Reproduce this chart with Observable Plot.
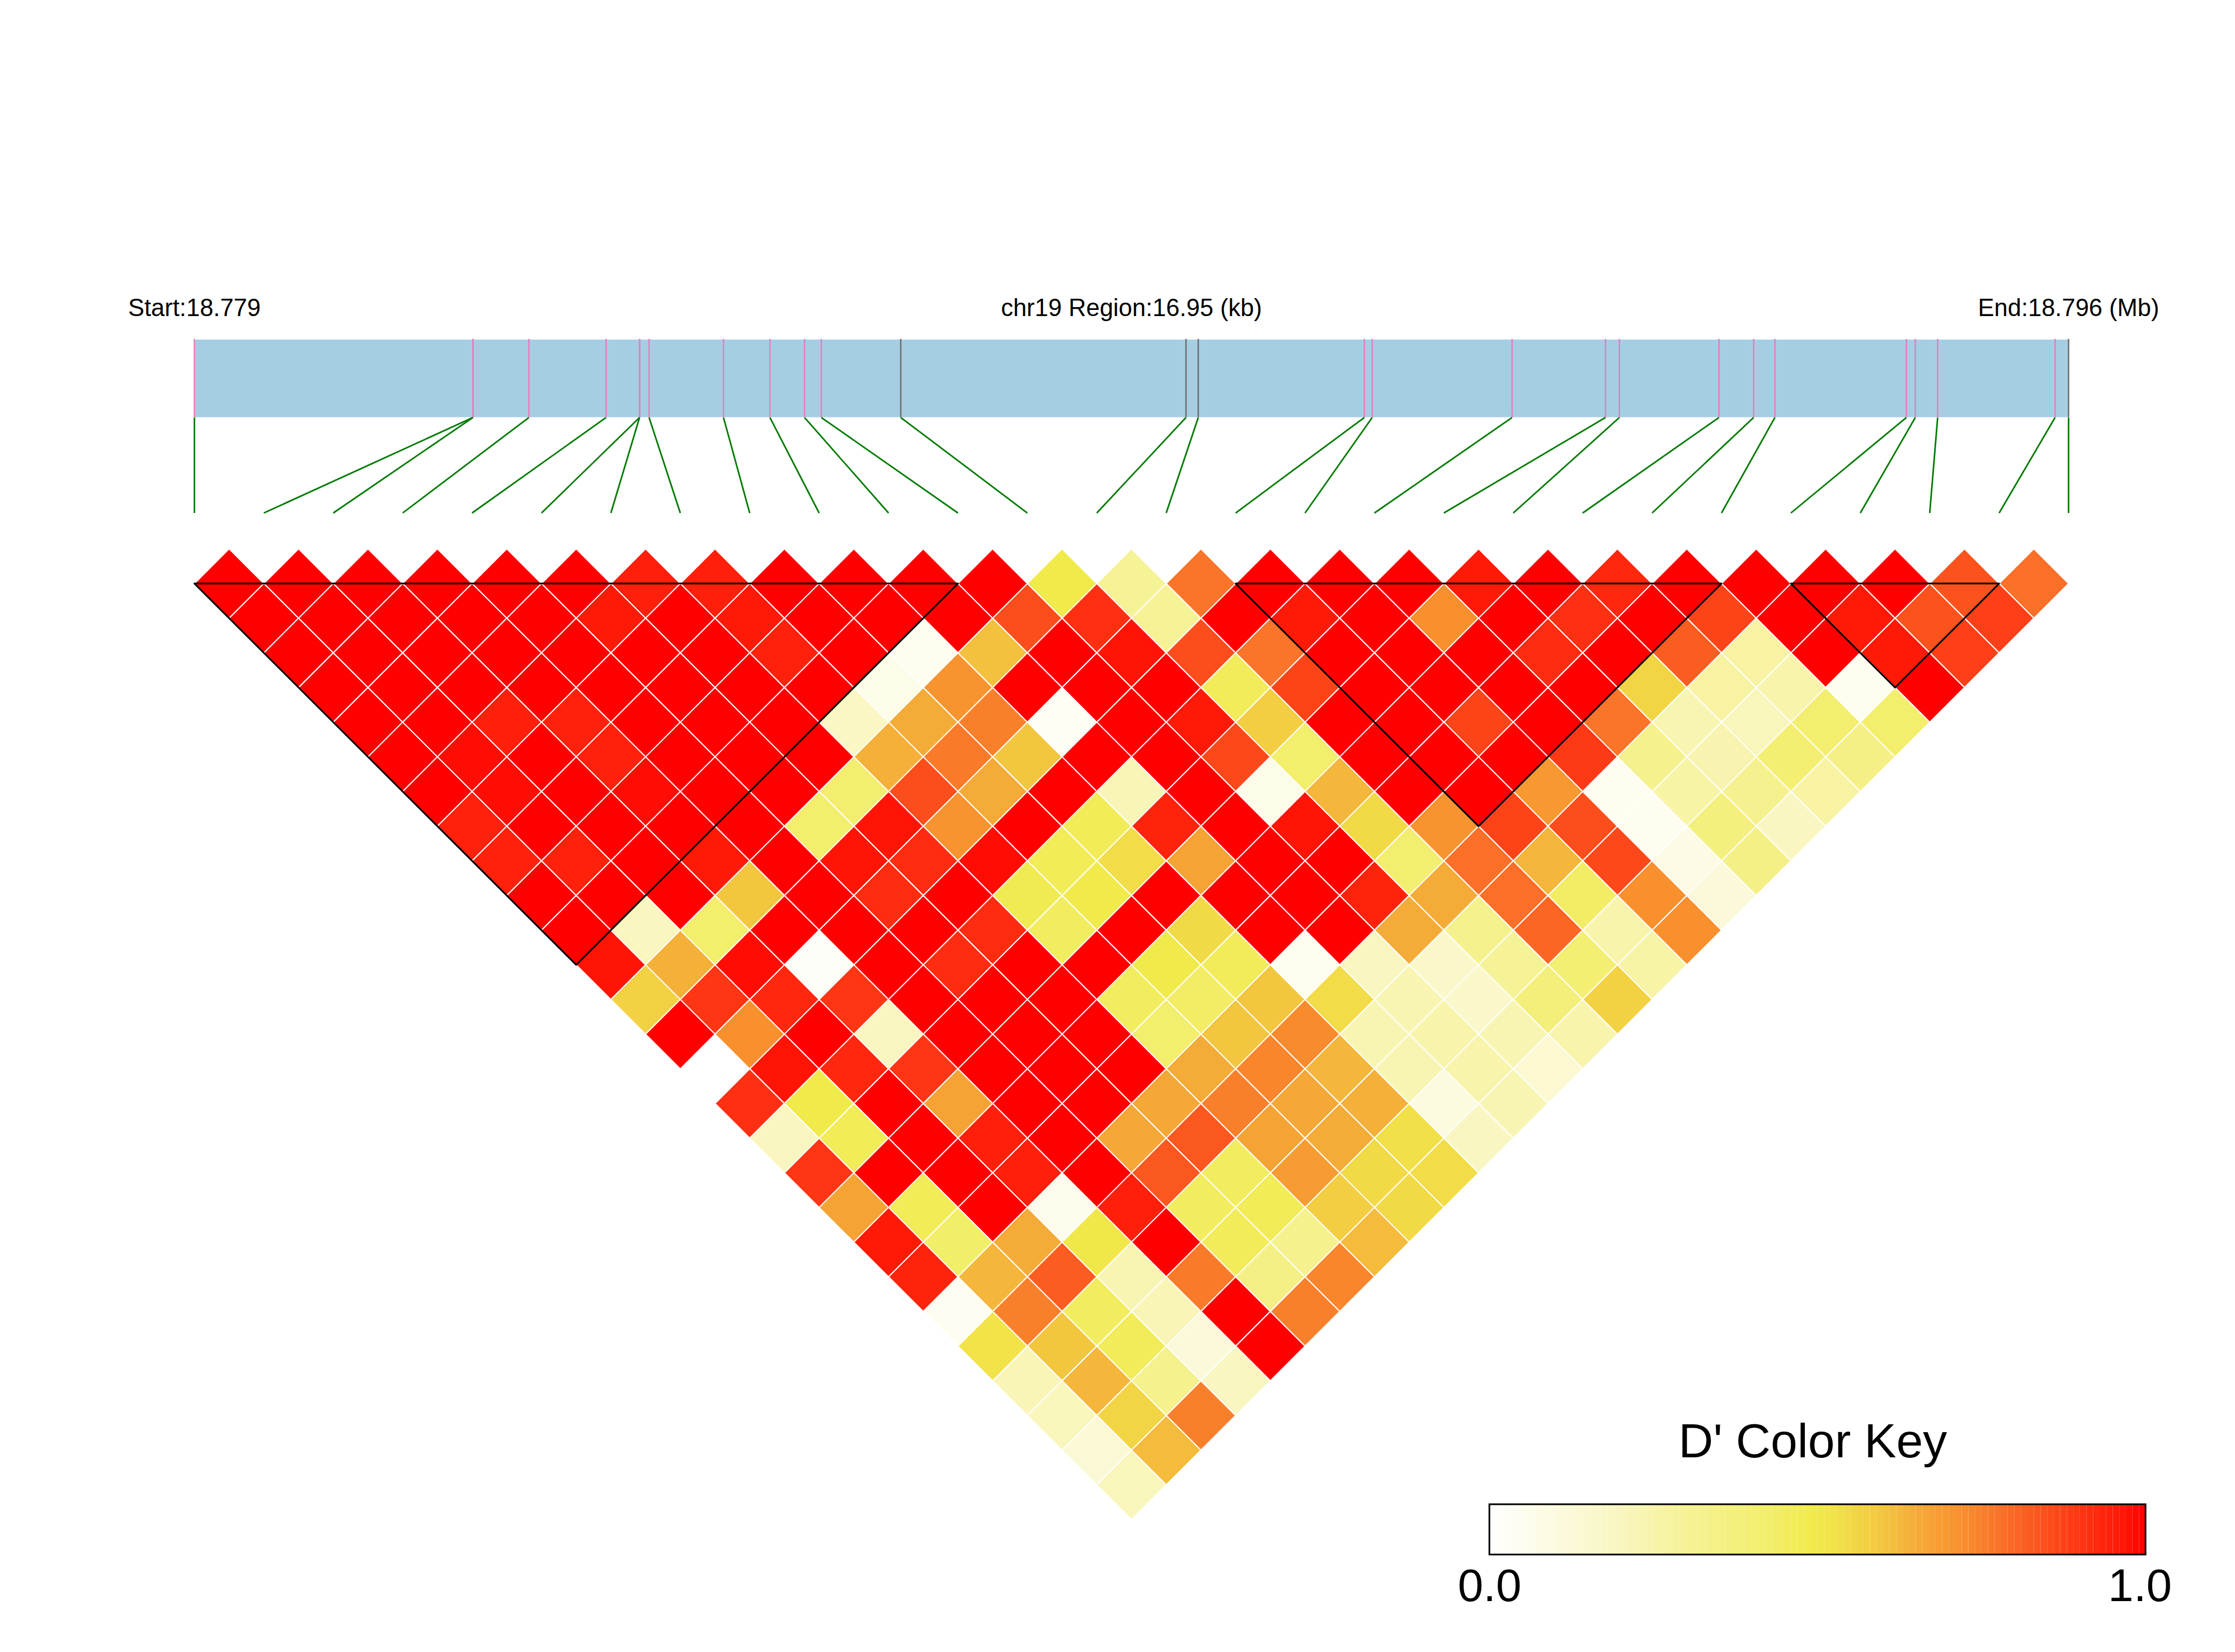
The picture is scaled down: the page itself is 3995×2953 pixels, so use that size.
<!DOCTYPE html>
<html>
<head>
<meta charset="utf-8">
<style>html,body{margin:0;padding:0;background:#fff}svg{display:block}</style>
<script src="https://cdn.jsdelivr.net/npm/d3@7"></script>
<script src="https://cdn.jsdelivr.net/npm/@observablehq/plot@0.6"></script>
</head>
<body>
<div id="chart"></div>
<script>
// D' by distance between SNPs: row n holds pairs (k, k+n+1). null = no value.
const row00 = [1,1,1,1,1,1,.95,.95,1,1,1,1,.5,.3,.77,1,1,1,.96,1,.93,1,1,1,1,.84,.78];
const row01 = [1,1,1,1,1,.96,1,.96,1,1,1,.85,.91,.3,1,.96,1,.72,1,.91,1,.87,1,.96,.84,.88];
const row02 = [1,1,1,1,1,1,1,.945,1,.05,.61,1,.97,.85,.77,1,1,1,.92,1,.82,.27,1,.96,.88];
const row03 = [1,1,1,1,1,1,1,1,.07,.71,1,1,1,.46,.87,1,1,1,1,.56,.27,.25,.05,1];
const row04 = [1,1,.95,.945,1,1,1,.18,.65,.75,.03,1,.96,.58,1,1,.87,1,.77,.23,.21,.41,.42];
const row05 = [1,.98,1,.945,1,1,1,.64,.76,.6,1,1,.86,.42,1,1,1,.89,.33,.24,.4,.35];
const row06 = [1,.98,1,.98,1,1,.41,.85,.65,1,.22,1,.07,.63,1,1,.7,.05,.26,.32,.27];
const row07 = [.945,1,1,1,1,.42,.97,.71,1,.47,.94,1,.97,.55,.71,.87,.85,.05,.37,.19];
const row08 = [.945,.945,1,.96,1,.97,.92,.98,.47,.54,.67,1,1,.41,.78,.63,.86,.08,.35];
const row09 = [1,1,1,.6,1,.92,1,.48,.5,1,1,1,.94,.65,.78,.44,.72,.12];
const row10 = [1,.2,.42,1,1,1,.92,.45,1,.55,1,1,.65,.33,.8,.25,.72];
const row11 = [.97,.64,.98,.02,1,.92,1,1,.5,.46,.05,.2,.17,.3,.4,.26];
const row12 = [.57,.9,.93,.9,1,1,1,.45,.44,.6,.54,.23,.17,.38,.57];
const row13 = [1,.72,1,.2,1,1,1,.42,.6,.73,.23,.25,.23,.25];
const row14 = [null,.97,.93,.9,1,1,1,.65,.74,.63,.23,.25,.14];
const row15 = [.91,.5,1,.67,1,1,.66,.75,.66,.64,.1,.23];
const row16 = [.2,.47,1,.95,1,.66,.83,.67,.65,.53,.19];
const row17 = [.9,1,1,.95,1,.83,.45,.69,.55,.54];
const row18 = [.67,.47,1,.06,.95,.45,.47,.58,.55];
const row19 = [.96,.43,.65,.51,1,.46,.33,.62];
const row20 = [.94,.63,.82,.23,.76,.35,.74];
const row21 = [.04,.75,.45,.22,1,.75];
const row22 = [.52,.6,.46,.12,1];
const row23 = [.22,.63,.33,.2];
const row24 = [.21,.56,.75];
const row25 = [.13,.62];
const row26 = [.21];
const rows = [row00,row01,row02,row03,row04,row05,row06,row07,row08,row09,row10,row11,row12,row13,
              row14,row15,row16,row17,row18,row19,row20,row21,row22,row23,row24,row25,row26];

// SNP positions within the 16.95 kb region
const regionKb = 16.95;
const snpKb = [0,2.519,2.519,3.025,3.723,4.026,4.026,4.112,4.785,5.205,5.518,5.670,6.388,8.968,
               9.079,10.581,10.652,11.917,12.762,12.888,13.788,14.102,14.294,15.483,15.564,15.766,16.828,16.95];
const greySnps = [12,13,14,27];

// LD blocks (first SNP, last SNP)
const blockFirst = [0,15,23];
const blockLast  = [11,22,26];

// Colour ramp of the key
const rampStops  = [0,.1,.2,.3,.42,.5,.55,.6,.65,.72,.78,.85,.9,.96,1];
const rampColors = ["#ffffff","#fcfadf","#f9f6bf","#f6f296","#f3ee6c","#f0ea4a","#f2d946","#f3c63f",
                    "#f5ab38","#f8902e","#fa7028","#fc4e1c","#ff3514","#ff1a08","#ff0000"];
const keyValues = d3.range(0,100).map(d => d/100);
const keyTickLabels = ["0.0","1.0"];
const keyTickAt = [0,.991];

const font = "Liberation Sans, Arial, sans-serif";

// layout in scale units: x = SNP index, y = rows of the triangle
const trackTop = -7.03, trackBottom = -4.79, fanEnd = -2.035, labelY = -7.71;
const keyLeft = 18.66, keyRight = 28.113, keyTop = 26.57, keyBottom = 28.02;

const cells = rows.flatMap((vals, d) => vals.map((v, k) => ({v, x: k + (d + 1)/2, y: d}))).filter(c => c.v !== null);
const snps = snpKb.map((kb, i) => ({i, pos: kb/regionKb*27, grey: greySnps.includes(i)}));
const blockPaths = blockFirst.flatMap((a, n) => {
  const b = blockLast[n];
  return [[a,0],[b,0],[(a+b)/2,b-a],[a,0]].map(([x,y]) => ({n, x, y}));
});
const diamond = {draw(ctx, size){ const r = Math.sqrt(size/Math.PI);
  ctx.moveTo(0,-r); ctx.lineTo(r,0); ctx.lineTo(0,r); ctx.lineTo(-r,0); ctx.closePath(); }};
const keyX = v => keyLeft + v*(keyRight-keyLeft);

const chart = Plot.plot({
  width: 3995, height: 2953, margin: 0,
  style: {background:"#fff", fontFamily: font},
  x: {domain:[0,27], range:[347,3697], axis:null},
  y: {domain:[0,26], range:[1042.6,2653.6], axis:null},
  color: {type:"linear", domain: rampStops, range: rampColors, clamp:true},
  marks: [
    Plot.rect([0], {x1:0, x2:27, y1:trackTop, y2:trackBottom, fill:"#A6CEE3"}),
    Plot.ruleX(snps.filter(s => !s.grey), {x:"pos", y1:trackTop-.02, y2:trackBottom, stroke:"#E67FBC", strokeWidth:2.6}),
    Plot.ruleX(snps.filter(s => s.grey), {x:"pos", y1:trackTop-.02, y2:trackBottom, stroke:"#707070", strokeWidth:2.6}),
    Plot.link(snps, {x1:"pos", y1:trackBottom, x2:"i", y2:fanEnd, stroke:"#007A00", strokeWidth:2.8}),
    Plot.text(["Start:18.779"], {x:0, y:labelY, text:d=>d, fontSize:43.5, lineAnchor:"bottom", fill:"#000"}),
    Plot.text(["chr19 Region:16.95 (kb)"], {x:13.5, y:labelY, text:d=>d, fontSize:43.5, lineAnchor:"bottom", fill:"#000"}),
    Plot.text(["End:18.796 (Mb)"], {x:27, y:labelY, text:d=>d, fontSize:43.5, lineAnchor:"bottom", fill:"#000"}),
    Plot.dot(cells, {x:"x", y:"y", fill:"v", r:62, symbol:diamond, stroke:"#fff", strokeWidth:2}),
    Plot.line(blockPaths, {x:"x", y:"y", z:"n", stroke:"#000", strokeWidth:3, curve:"linear"}),
    Plot.rect(keyValues, {x1:d=>keyX(d), x2:d=>keyX(d+.01), y1:keyTop, y2:keyBottom, fill:d=>d+.005}),
    Plot.rect([0], {x1:keyLeft, x2:keyRight, y1:keyTop, y2:keyBottom, fill:"none", stroke:"#000", strokeWidth:3}),
    Plot.text(["D' Color Key"], {x:keyX(.4925), y:25.2, text:d=>d, fontSize:86, lineAnchor:"bottom", fill:"#000"}),
    Plot.text(keyTickLabels, {x:(d,i)=>keyX(keyTickAt[i]), y:29.36, text:d=>d, fontSize:82, lineAnchor:"bottom", fill:"#000"})
  ]
});
document.getElementById("chart").appendChild(chart);
</script>
</body>
</html>
